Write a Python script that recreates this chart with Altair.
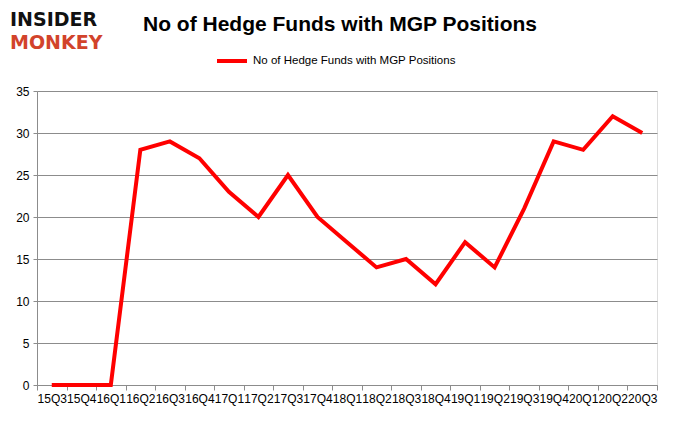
import altair as alt
import pandas as pd

quarters = ["15Q3", "15Q4", "16Q1", "16Q2", "16Q3", "16Q4", "17Q1", "17Q2", "17Q3", "17Q4",
            "18Q1", "18Q2", "18Q3", "18Q4", "19Q1", "19Q2", "19Q3", "19Q4", "20Q1", "20Q2", "20Q3"]
funds = [0, 0, 0, 28, 29, 27, 23, 20, 25, 20, 17, 14, 15, 12, 17, 14, 21, 29, 28, 32, 30]
series_name = "No of Hedge Funds with MGP Positions"
title_text = "No of Hedge Funds with MGP Positions"
logo_top = "INSIDER"
logo_bottom = "MONKEY"
y_ticks = [0, 5, 10, 15, 20, 25, 30, 35]

df = pd.DataFrame({"quarter": quarters, "funds": funds, "series": [series_name] * len(quarters)})
one = pd.DataFrame({"k": [0]})

FONT = "Liberation Sans"

line = alt.Chart(df).mark_line(strokeWidth=4, strokeJoin="miter").encode(
    x=alt.X("quarter:N", sort=quarters, bandPosition=0.5,
            scale=alt.Scale(type="band", paddingInner=0, paddingOuter=0),
            axis=alt.Axis(title=None, labelAngle=0, tickBand="extent", grid=False,
                          domainColor="#8c8c8c", tickColor="#8c8c8c", tickSize=5,
                          labelPadding=3, labelFontSize=12, labelFont=FONT,
                          labelColor="#000000", labelOverlap=False)),
    y=alt.Y("funds:Q", scale=alt.Scale(domain=[0, 35], nice=False),
            axis=alt.Axis(title=None, values=y_ticks, grid=True, gridColor="#8c8c8c",
                          domainColor="#8c8c8c", tickColor="#8c8c8c", tickSize=4,
                          labelPadding=4, labelFontSize=12, labelFont=FONT,
                          labelColor="#000000")),
    color=alt.Color("series:N", scale=alt.Scale(range=["#FF0000"]),
                    legend=alt.Legend(title=None, orient="none", legendX=178, legendY=-47,
                                      symbolType="stroke", symbolSize=900,
                                      symbolStrokeWidth=4, labelFontSize=11.5,
                                      labelLimit=0, labelFont=FONT, labelColor="#000000")),
)

title = alt.Chart(one).mark_text(fontSize=21, fontWeight="bold", font=FONT, align="center",
                                 baseline="middle", color="#000000").encode(
    x=alt.value(303), y=alt.value(-66), text=alt.value(title_text))

logo1 = alt.Chart(one).mark_text(fontSize=19, fontWeight="bold", font="DejaVu Sans",
                                 align="left", baseline="middle", color="#111111").encode(
    x=alt.value(-27), y=alt.value(-71), text=alt.value(logo_top))
logo2 = alt.Chart(one).mark_text(fontSize=19, fontWeight="bold", font="DejaVu Sans",
                                 align="left", baseline="middle", color="#D2432B").encode(
    x=alt.value(-27), y=alt.value(-48), text=alt.value(logo_bottom))

chart = alt.layer(line, title, logo1, logo2).properties(
    width=620, height=294,
    padding={"left": 29, "top": 83, "right": 12, "bottom": 38},
    autosize=alt.AutoSizeParams(type="none"),
).configure_view(stroke=None).configure(background="white")

chart.save("out.html", embed_options={"renderer": "svg", "actions": False})
